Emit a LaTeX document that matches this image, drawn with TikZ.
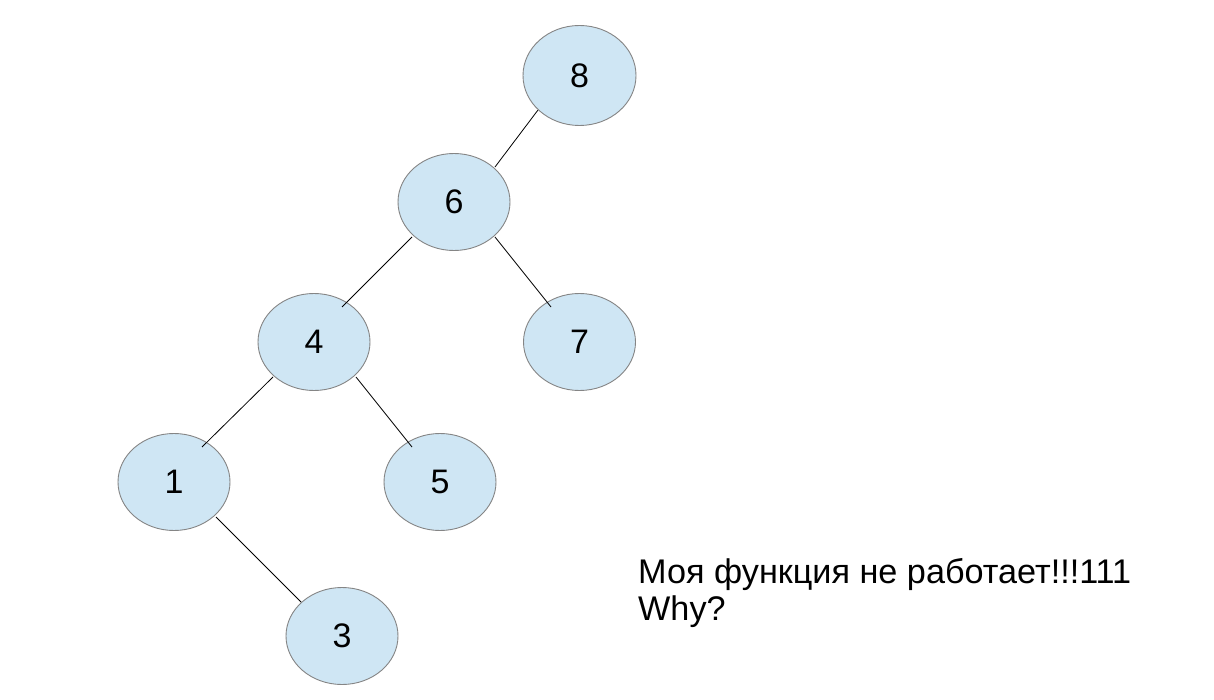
\documentclass[tikz,border=0pt]{standalone}
\usepackage{fontspec}
\setmainfont{Liberation Sans}
\usetikzlibrary{shapes.geometric,calc}
\definecolor{nodefill}{HTML}{CFE6F4}
\definecolor{nodeline}{HTML}{858585}
\tikzset{
  treenode/.style={ellipse, draw=nodeline, line width=0.9pt, fill=nodefill,
    minimum width=112pt, minimum height=97pt, inner sep=0pt,
    font=\fontsize{34}{40}\selectfont},
  edge/.style={draw=black, line width=0.8pt},
  caption/.style={anchor=base west, inner sep=0pt, font=\fontsize{34.2}{40}\selectfont}
}
\begin{document}
\begin{tikzpicture}[x=1pt,y=-1pt]
\useasboundingbox[fill=white] (0,0) rectangle (1214,700);
\node[treenode, minimum width=113pt, minimum height=100pt] (n8) at (579.5,75.5) {8};
\node[treenode] (n6) at (454,202) {6};
\node[treenode] (n4) at (314,342) {4};
\node[treenode] (n7) at (579.5,342) {7};
\node[treenode] (n1) at (174,482) {1};
\node[treenode] (n5) at (440,482) {5};
\node[treenode] (n3) at (342,636) {3};
\draw[edge] ($(n8)+(-41.5,34.5)$) -- ($(n6)+(41,-35)$);
\draw[edge] ($(n6)+(-42,35)$) -- ($(n4)+(28,-35)$);
\draw[edge] ($(n6)+(41,35)$) -- ($(n7)+(-28.5,-35)$);
\draw[edge] ($(n4)+(-41,35)$) -- ($(n1)+(28,-35)$);
\draw[edge] ($(n4)+(42,35)$) -- ($(n5)+(-28,-35)$);
\draw[edge] ($(n1)+(42,35)$) -- ($(n3)+(-41,-34)$);
\node[caption] (t1) at (638,583) {Моя функция не работает!!!111};
\node[caption] (t2) at (638,620) {Why?};
\end{tikzpicture}
\end{document}
